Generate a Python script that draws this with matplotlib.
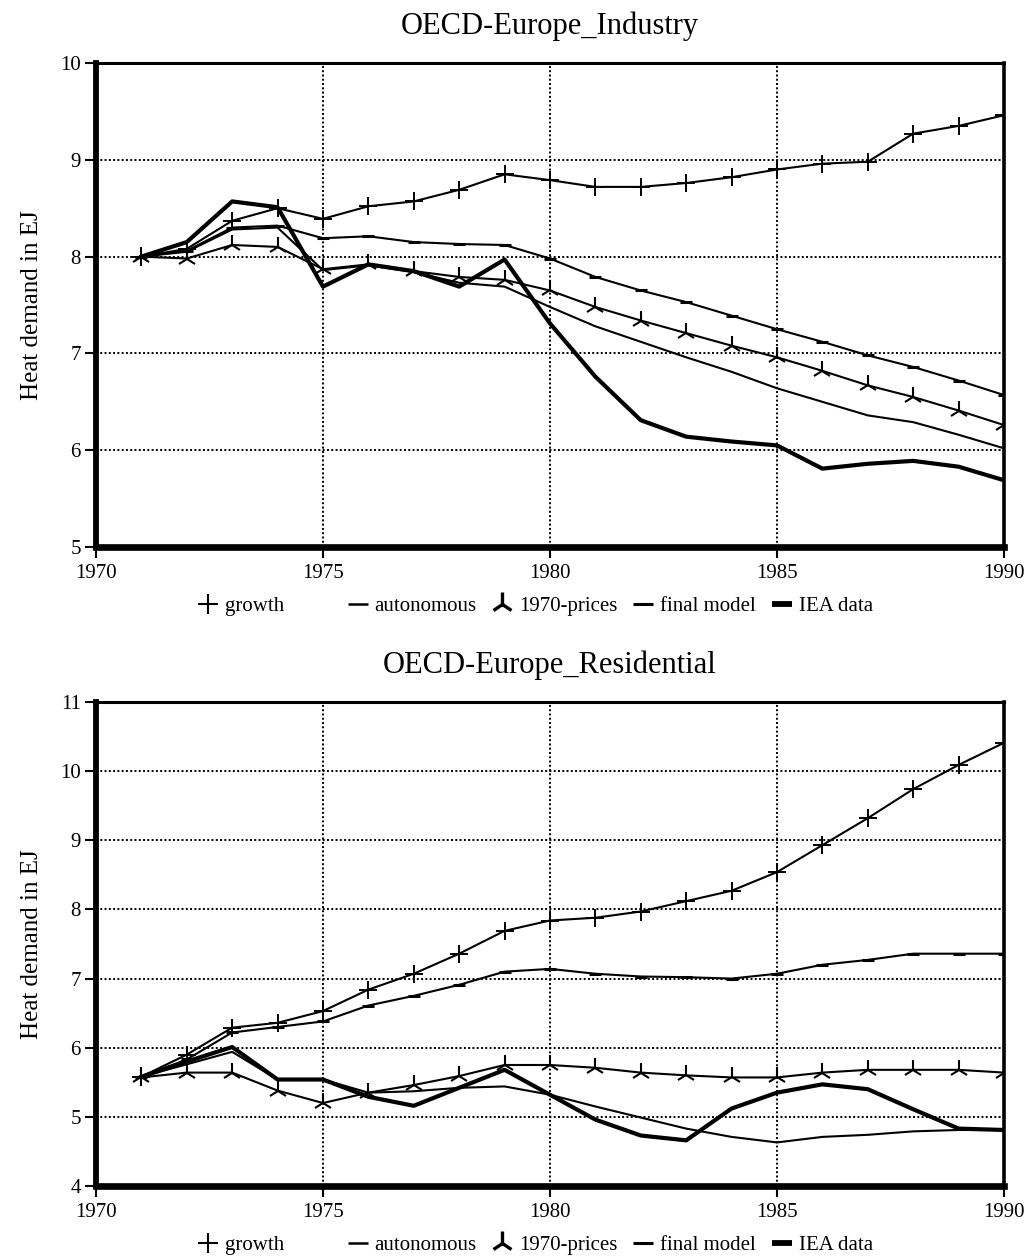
import matplotlib
matplotlib.use("Agg")
import matplotlib.pyplot as plt
from matplotlib.lines import Line2D

years = list(range(1971, 1991))

# OECD-Europe_Industry
ind_growth = [8.0, 8.08, 8.37, 8.50, 8.39, 8.52, 8.57, 8.69, 8.85, 8.79,
              8.72, 8.72, 8.76, 8.82, 8.90, 8.96, 8.98, 9.27, 9.35, 9.46]
ind_autonomous = [8.0, 8.06, 8.30, 8.32, 8.19, 8.21, 8.15, 8.13, 8.12, 7.98,
                  7.79, 7.65, 7.53, 7.39, 7.25, 7.12, 6.98, 6.86, 6.72, 6.57]
ind_prices1970 = [8.0, 7.98, 8.12, 8.10, 7.87, 7.92, 7.85, 7.79, 7.76, 7.65,
                  7.48, 7.34, 7.21, 7.08, 6.96, 6.82, 6.67, 6.55, 6.41, 6.26]
ind_final = [8.0, 8.05, 8.28, 8.30, 7.86, 7.91, 7.84, 7.73, 7.69, 7.48,
             7.28, 7.12, 6.96, 6.81, 6.64, 6.50, 6.36, 6.29, 6.16, 6.02]
ind_iea = [8.0, 8.15, 8.57, 8.51, 7.69, 7.92, 7.85, 7.69, 7.97, 7.31,
           6.76, 6.31, 6.14, 6.09, 6.05, 5.81, 5.86, 5.89, 5.83, 5.69]

# OECD-Europe_Residential
res_growth = [5.58, 5.90, 6.29, 6.36, 6.53, 6.84, 7.07, 7.36, 7.69, 7.84,
              7.88, 7.97, 8.12, 8.27, 8.54, 8.93, 9.32, 9.74, 10.09, 10.41]
res_autonomous = [5.58, 5.83, 6.22, 6.30, 6.38, 6.61, 6.75, 6.91, 7.10, 7.14,
                  7.07, 7.03, 7.02, 7.00, 7.07, 7.20, 7.27, 7.36, 7.36, 7.36]
res_prices1970 = [5.57, 5.64, 5.64, 5.38, 5.20, 5.35, 5.46, 5.59, 5.75, 5.75,
                  5.71, 5.64, 5.60, 5.57, 5.57, 5.64, 5.68, 5.68, 5.68, 5.64]
res_final = [5.58, 5.76, 5.94, 5.54, 5.54, 5.35, 5.37, 5.42, 5.44, 5.32,
             5.15, 4.99, 4.83, 4.71, 4.63, 4.71, 4.74, 4.79, 4.81, 4.81]
res_iea = [5.58, 5.80, 6.01, 5.54, 5.54, 5.29, 5.16, 5.42, 5.68, 5.32,
           4.96, 4.73, 4.66, 5.12, 5.35, 5.47, 5.40, 5.11, 4.83, 4.81]

titles = ["OECD-Europe_Industry", "OECD-Europe_Residential"]
ylims = [(5, 10), (4, 11)]
xticks = [1970, 1975, 1980, 1985, 1990]
legend_labels = ["growth", "autonomous", "1970-prices", "final model", "IEA data"]

plt.rcParams['font.family'] = ['Liberation Serif', 'DejaVu Serif']

fig = plt.figure(figsize=(10.33, 12.57), dpi=100)
axes_pos = [[0.0929, 0.5648, 0.879, 0.3851], [0.0929, 0.0565, 0.879, 0.3850]]
datasets = [
    (ind_growth, ind_autonomous, ind_prices1970, ind_final, ind_iea),
    (res_growth, res_autonomous, res_prices1970, res_final, res_iea),
]

for pos, title, ylim, data in zip(axes_pos, titles, ylims, datasets):
    ax = fig.add_axes(pos)
    g, a, p, f, iea = data
    ax.plot(years, g, color='black', lw=1.5, marker='+', ms=13, mew=1.4)
    ax.plot(years, a, color='black', lw=1.5, marker='_', ms=8, mew=2.2)
    ax.plot(years, p, color='black', lw=1.5, marker='2', ms=15, mew=1.5)
    ax.plot(years, f, color='black', lw=1.5)
    ax.plot(years, iea, color='black', lw=3.0)
    ax.set_xlim(1970, 1990)
    ax.set_ylim(*ylim)
    ax.set_xticks(xticks)
    ax.set_yticks(range(ylim[0], ylim[1] + 1))
    ax.tick_params(axis='both', labelsize=15, direction='out', length=8, width=1.5, colors='black')
    ax.tick_params(axis='x', pad=4)
    ax.tick_params(axis='y', pad=3)
    ax.grid(True, color='black', linestyle=(0, (1, 1.2)), lw=1.4)
    for side, w in [('left', 4.2), ('bottom', 4.8), ('top', 2.2), ('right', 2.6)]:
        ax.spines[side].set_linewidth(w)
    ax.set_ylabel("Heat demand in EJ", fontsize=18, labelpad=12)
    ax.set_title(title, fontsize=22, pad=21)

    handles = [
        Line2D([], [], color='black', marker='+', ms=15, mew=1.5, ls='none'),
        Line2D([], [], color='black', marker='_', ms=15, mew=1.8, ls='none'),
        Line2D([], [], color='black', marker='2', ms=17, mew=2.4, ls='none'),
        Line2D([], [], color='black', marker='_', ms=15, mew=2.2, ls='none'),
        Line2D([], [], color='black', marker='_', ms=15, mew=4.2, ls='none'),
    ]
    labels = [legend_labels[0] + "\u00a0" * 9] + legend_labels[1:]
    ax.legend(handles, labels, loc='upper center', bbox_to_anchor=(0.485, -0.085),
              ncol=5, frameon=False, fontsize=15, handlelength=0.8, handletextpad=0.4,
              columnspacing=0.85, borderaxespad=0)

fig.savefig("out.png", dpi=100)
